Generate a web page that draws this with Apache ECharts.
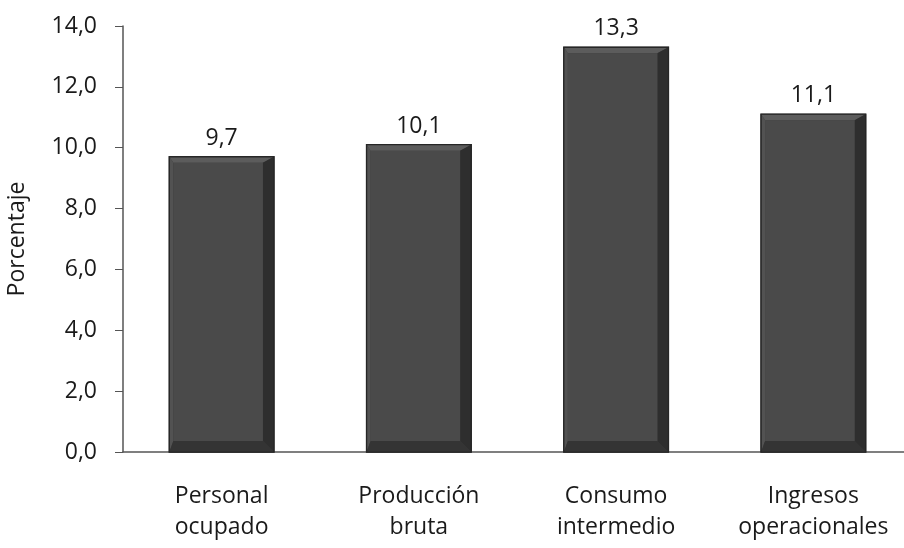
<!DOCTYPE html>
<html>
<head>
<meta charset="utf-8">
<script src="https://cdn.jsdelivr.net/npm/echarts@6/dist/echarts.min.js"></script>
<style>html,body{margin:0;padding:0;background:#fff}#c{width:904px;height:548px}</style>
</head>
<body>
<div id="c"></div>
<script>
var categories = ['Personal\nocupado', 'Producción\nbruta', 'Consumo\nintermedio', 'Ingresos\noperacionales'];
var values = [9.7, 10.1, 13.3, 11.1];
var yTicks = { min: 0, max: 14, interval: 2 };
var yName = 'Porcentaje';

function fmt(v) { return Number(v).toFixed(1).replace('.', ','); }

var FONT = '"Open Sans", Lato, sans-serif';
var TXT = '#1a1a1a';
var FS = 23;

function renderBevelBar(params, api) {
  var idx = api.value(0);
  var val = api.value(1);
  var top = api.coord([idx, val]);
  var base = api.coord([idx, 0]);
  var band = api.size([1, 0])[0];
  var w = band * 0.53;
  var x0 = top[0] - w / 2, x1 = top[0] + w / 2;
  var y0 = top[1], y1 = base[1];
  var b = 11;
  var ix0 = x0 + 4, ix1 = x1 - b, iy0 = y0 + 6, iy1 = y1 - b;
  return {
    type: 'group',
    children: [
      { type: 'rect', shape: { x: x0, y: y0, width: w, height: y1 - y0 },
        style: { fill: '#3c3c3c', stroke: '#262626', lineWidth: 1.5 } },
      { type: 'polygon', shape: { points: [[x0, y0], [x1, y0], [ix1, iy0], [ix0, iy0]] },
        style: { fill: '#5c5c5c' } },
      { type: 'polygon', shape: { points: [[x0, y0], [ix0, iy0], [ix0, iy1], [x0, y1]] },
        style: { fill: '#525252' } },
      { type: 'polygon', shape: { points: [[x1, y0], [x1, y1], [ix1, iy1], [ix1, iy0]] },
        style: { fill: '#2e2e2e' } },
      { type: 'polygon', shape: { points: [[x0, y1], [ix0, iy1], [ix1, iy1], [x1, y1]] },
        style: { fill: '#343434' } },
      { type: 'rect', shape: { x: ix0, y: iy0, width: ix1 - ix0, height: iy1 - iy0 },
        style: { fill: '#4a4a4a' } },
      { type: 'rect', shape: { x: x0, y: y0, width: w, height: y1 - y0 },
        style: { fill: 'none', stroke: '#262626', lineWidth: 1.2 } },
      { type: 'text', x: top[0], y: y0 - 7,
        style: { text: fmt(val), fill: TXT, font: FS + 'px ' + FONT, align: 'center', verticalAlign: 'bottom' } }
    ]
  };
}

var chart = echarts.init(document.getElementById('c'));
chart.setOption({
  animation: false,
  backgroundColor: '#fff',
  textStyle: { fontFamily: FONT, color: TXT },
  grid: { left: 123, right: -8, top: 26, bottom: 96, outerBoundsMode: 'none', containLabel: false },
  xAxis: {
    type: 'category',
    data: categories,
    axisLine: { show: true, lineStyle: { color: '#555', width: 1.5 } },
    axisTick: { show: false },
    axisLabel: { fontSize: FS, lineHeight: 31, margin: 29, color: TXT, interval: 0, fontFamily: FONT }
  },
  yAxis: {
    type: 'value',
    min: yTicks.min, max: yTicks.max, interval: yTicks.interval,
    name: yName,
    nameLocation: 'middle',
    nameGap: 94,
    nameRotate: 90,
    nameTextStyle: { fontSize: FS, color: TXT, fontFamily: FONT },
    splitLine: { show: false },
    axisLine: { show: true, lineStyle: { color: '#555', width: 1.5 } },
    axisTick: { show: true, inside: false, length: 8, lineStyle: { color: '#555' } },
    axisLabel: { fontSize: FS, margin: 26, color: TXT, formatter: fmt, fontFamily: FONT }
  },
  series: [{
    type: 'custom',
    renderItem: renderBevelBar,
    encode: { x: 0, y: 1 },
    clip: false,
    data: values.map(function (v, i) { return [i, v]; })
  }]
});
</script>
</body>
</html>
